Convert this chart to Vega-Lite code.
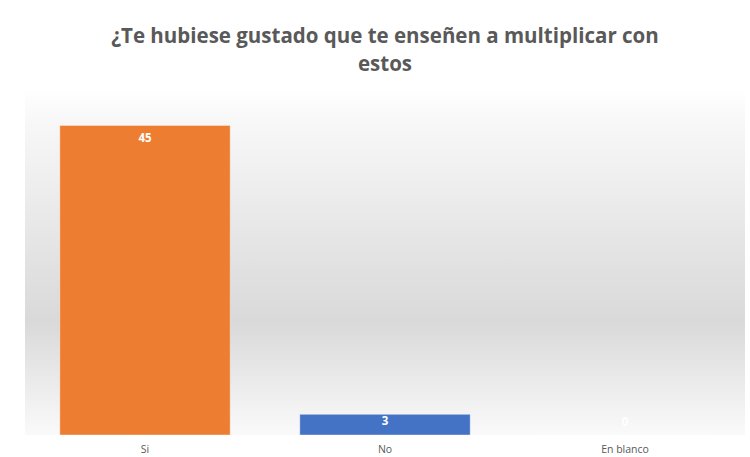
{
  "$schema": "https://vega.github.io/schema/vega-lite/v6.json",
  "width": 720,
  "height": 344,
  "autosize": "none",
  "padding": {"left": 25, "top": 91, "right": 5, "bottom": 22},
  "background": "#ffffff",
  "title": {
    "text": ["¿Te hubiese gustado que te enseñen a multiplicar con", "estos"],
    "fontSize": 20.5,
    "font": "Open Sans",
    "fontWeight": "bold",
    "color": "#595959",
    "lineHeight": 28,
    "anchor": "middle",
    "offset": 16
  },
  "config": {"view": {"stroke": null}},
  "layer": [
    {
      "data": {"values": [{"bg": 1}]},
      "mark": {
        "type": "rect",
        "color": {
          "gradient": "linear",
          "x1": 0, "y1": 0, "x2": 0, "y2": 1,
          "stops": [
            {"offset": 0, "color": "#fefefe"},
            {"offset": 0.1, "color": "#f7f7f7"},
            {"offset": 0.67, "color": "#d9d9d9"},
            {"offset": 1, "color": "#fafafa"}
          ]
        }
      },
      "encoding": {}
    },
    {
      "data": {"values": [
        {"respuesta": "Si", "cantidad": 45},
        {"respuesta": "No", "cantidad": 3},
        {"respuesta": "En blanco", "cantidad": 0}
      ]},
      "encoding": {
        "x": {
          "field": "respuesta", "type": "nominal", "sort": null,
          "scale": {"paddingInner": 0.29, "paddingOuter": 0.145},
          "axis": {"title": null, "domain": false, "ticks": false, "labelAngle": 0,
                   "labelFont": "Open Sans", "labelFontSize": 10.5, "labelColor": "#595959", "labelPadding": 9}
        },
        "y": {
          "field": "cantidad", "type": "quantitative",
          "scale": {"domain": [0, 50], "nice": false},
          "axis": null
        }
      },
      "layer": [
        {
          "mark": {"type": "bar", "stroke": "#ffffff", "strokeOpacity": 0.4, "strokeWidth": 1},
          "encoding": {
            "color": {
              "field": "respuesta", "type": "nominal",
              "scale": {"domain": ["Si", "No", "En blanco"], "range": ["#ED7D31", "#4472C4", "#A5A5A5"]},
              "legend": null
            }
          }
        },
        {
          "transform": [{"filter": "datum.cantidad > 10"}],
          "mark": {"type": "text", "baseline": "middle", "dy": 14, "color": "#ffffff", "font": "Open Sans", "fontWeight": "bold", "fontSize": 11.5},
          "encoding": {"text": {"field": "cantidad", "type": "quantitative"}}
        },
        {
          "transform": [{"filter": "datum.cantidad > 0 && datum.cantidad <= 10"}],
          "mark": {"type": "text", "baseline": "middle", "dy": 8, "color": "#ffffff", "font": "Open Sans", "fontWeight": "bold", "fontSize": 11.5},
          "encoding": {"text": {"field": "cantidad", "type": "quantitative"}}
        },
        {
          "transform": [{"filter": "datum.cantidad == 0"}],
          "mark": {"type": "text", "baseline": "middle", "dy": -12, "color": "#ffffff", "font": "Open Sans", "fontWeight": "bold", "fontSize": 11.5},
          "encoding": {"text": {"field": "cantidad", "type": "quantitative"}}
        }
      ]
    }
  ]
}
